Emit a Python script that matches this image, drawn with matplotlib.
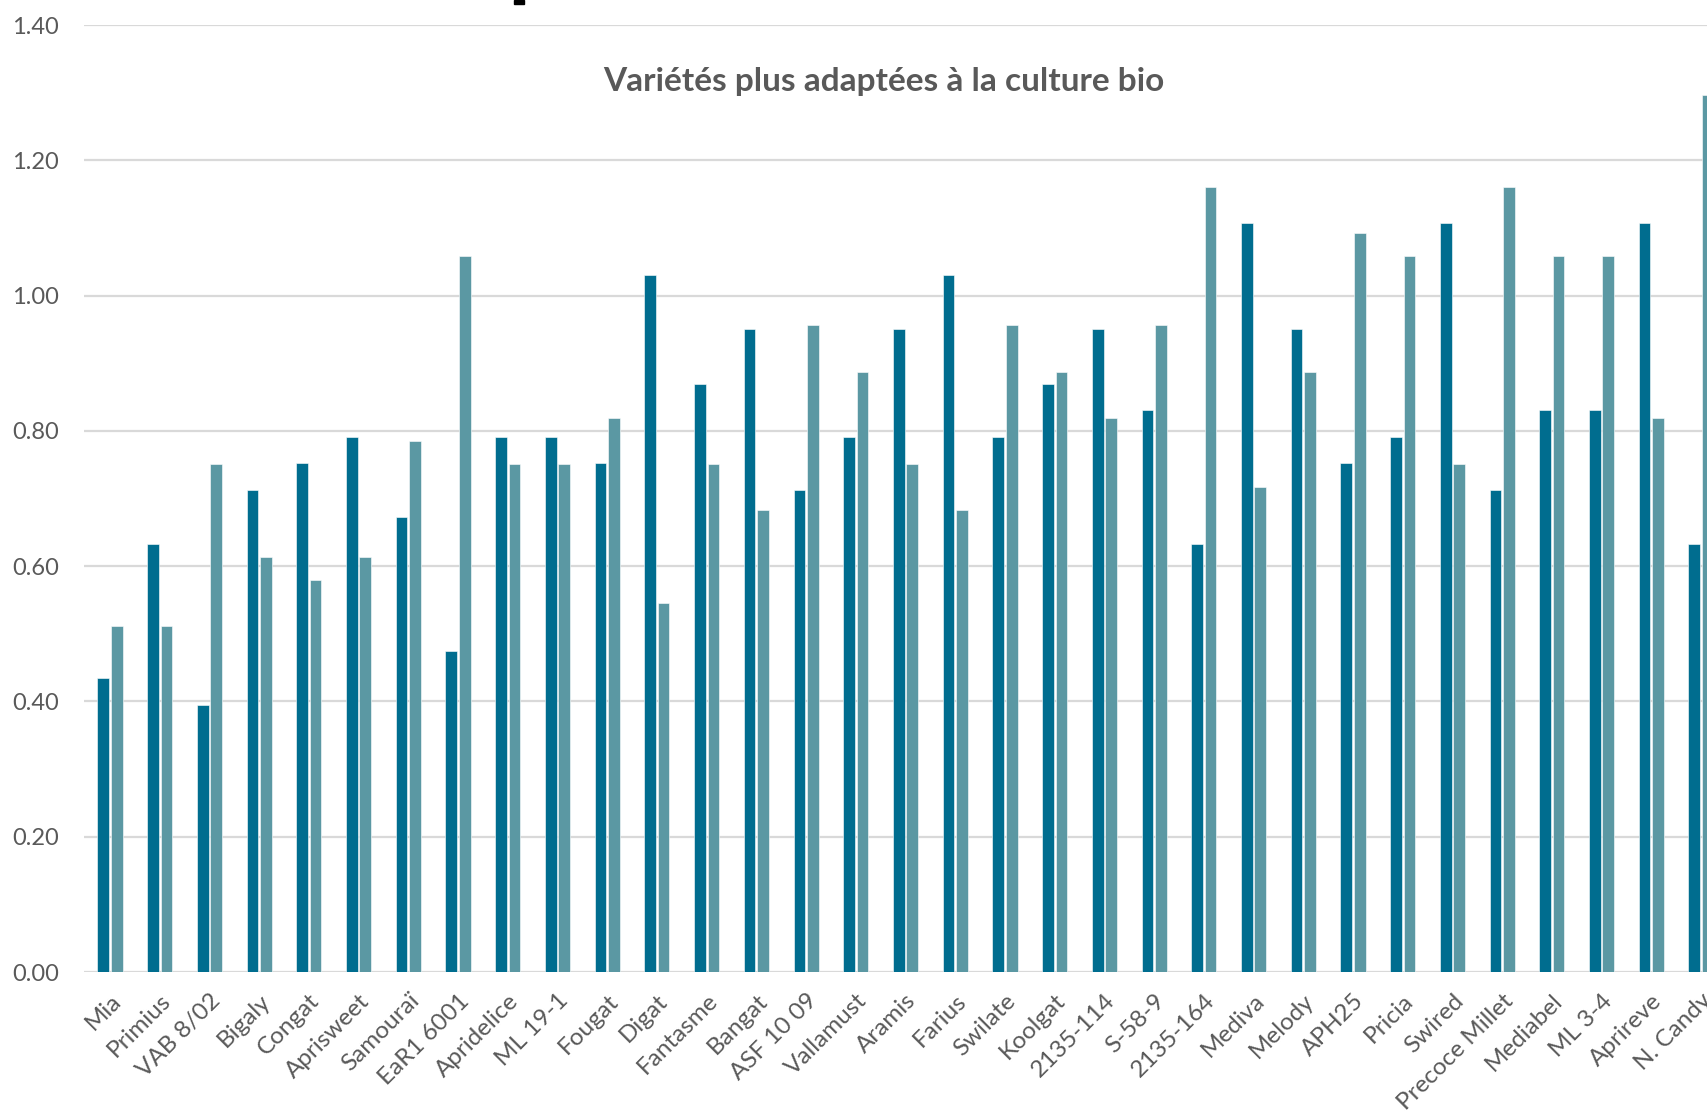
import numpy as np
import matplotlib.pyplot as plt
from matplotlib.patches import Rectangle

# Variety names and the two series (dark / light bars)
varietes = ["Mia", "Primius", "VAB 8/02", "Bigaly", "Congat", "Aprisweet", "Samouraï",
            "EaR1 6001", "Apridelice", "ML 19-1", "Fougat", "Digat", "Fantasme", "Bangat",
            "ASF 10 09", "Vallamust", "Aramis", "Farius", "Swilate", "Koolgat", "2135-114",
            "S-58-9", "2135-164", "Mediva", "Melody", "APH25", "Pricia", "Swired",
            "Precoce Millet", "Mediabel", "ML 3-4", "Aprireve", "N. Candy"]

serie_1 = [0.435, 0.633, 0.395, 0.712, 0.752, 0.791, 0.672, 0.475, 0.791, 0.791, 0.752,
           1.030, 0.870, 0.950, 0.712, 0.791, 0.950, 1.030, 0.791, 0.870, 0.950, 0.831,
           0.633, 1.108, 0.950, 0.752, 0.791, 1.108, 0.712, 0.831, 0.831, 1.108, 0.633]

serie_2 = [0.512, 0.512, 0.751, 0.614, 0.580, 0.614, 0.785, 1.058, 0.751, 0.751, 0.819,
           0.546, 0.751, 0.683, 0.956, 0.887, 0.751, 0.683, 0.956, 0.887, 0.819, 0.956,
           1.160, 0.717, 0.887, 1.092, 1.058, 0.751, 1.160, 1.058, 1.058, 0.819, 1.297]

yticks = [0.0, 0.2, 0.4, 0.6, 0.8, 1.0, 1.2, 1.4]

dark = "#006d8f"
light = "#5b98a3"
grey = "#595959"

plt.rcParams['font.family'] = ['Lato', 'DejaVu Sans']

fig = plt.figure(figsize=(17.07, 11.17), dpi=100)
ax = fig.add_axes([84 / 1707, 0.1298, 1 - 84 / 1707, 0.8478])

x = np.arange(len(varietes))
w = 0.235
ax.bar(x - 0.135, serie_1, width=w, color=dark, edgecolor="white", linewidth=0.4, zorder=3)
ax.bar(x + 0.135, serie_2, width=w, color=light, edgecolor="white", linewidth=0.4, zorder=3)

ax.set_xlim(-0.523, 32.12)
ax.set_ylim(0, 1.4)
ax.set_yticks(yticks)
ax.set_yticklabels([f"{v:.2f}" for v in yticks], fontsize=17, color=grey)
ax.set_xticks(x)
ax.set_xticklabels(varietes, rotation=45, ha="right", rotation_mode="anchor",
                   fontsize=17.5, color=grey)
ax.tick_params(axis="both", length=0)
ax.tick_params(axis="y", pad=18)
ax.tick_params(axis="x", pad=13)

ax.grid(axis="y", color="#d9d9d9", linewidth=1.6, zorder=0)
ax.set_axisbelow(True)
for s in ax.spines.values():
    s.set_visible(False)

fig.text(0.518, 0.9266, "Variétés plus adaptées à la culture bio",
         ha="center", va="center", fontsize=24, fontweight="bold", color=grey)

# bottom of a heading that sits above the frame
fig.patches.append(Rectangle((514 / 1707, 1 - 4 / 1117), 10 / 1707, 4 / 1117,
                             transform=fig.transFigure, color="black"))

fig.savefig("out.png", dpi=100)
